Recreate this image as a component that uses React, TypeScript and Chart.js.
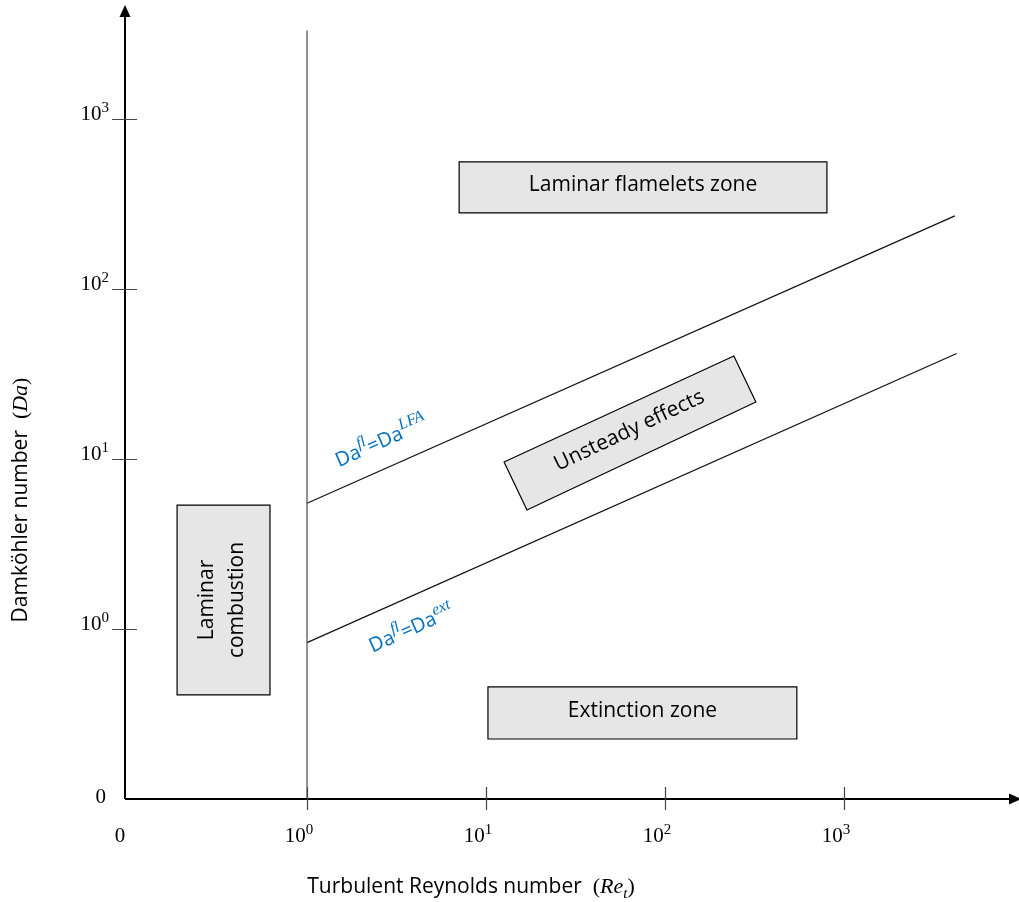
import React, { useEffect, useRef } from "react";
import { Chart, registerables } from "chart.js";

Chart.register(...registerables);

// ---- Axes (values are log10 decades) ----
const xTickExponents = [0, 1, 2, 3];
const yTickExponents = [0, 1, 2, 3];
const xZeroLabel = "0";
const yZeroLabel = "0";
const xMin = -1.017;
const xMax = 3.9;
const yMin = -1;
const yMax = 3.582;

// ---- Boundary lines (log10 Re_t , log10 Da) ----
const reOneX = [0, 0];
const reOneY = [-1, 3.52];
const lfaX = [0, 3.62];
const lfaY = [0.74, 2.43];
const extX = [0, 3.63];
const extY = [-0.08, 1.62];

// ---- Zones ----
const zoneLabels = [
  ["Laminar flamelets zone"],
  ["Extinction zone"],
  ["Laminar", "combustion"],
  ["Unsteady effects"],
];
const zoneCornersX = [
  [0.85, 2.905, 2.905, 0.85],
  [1.011, 2.737, 2.737, 1.011],
  [-0.726, -0.207, -0.207, -0.726],
  [1.101, 1.229, 2.508, 2.385],
];
const zoneCornersY = [
  [2.747, 2.747, 2.447, 2.447],
  [-0.341, -0.341, -0.647, -0.647],
  [0.729, 0.729, -0.388, -0.388],
  [0.982, 0.7, 1.335, 1.606],
];

// ---- Criterion labels ----
const critBase = ["Da", "Da"];
const critSup1 = ["fl", "fl"];
const critSup2 = ["LFA", "ext"];
const critX = [0.413, 0.581];
const critY = [1.106, 0.006];

const xTitleText = "Turbulent Reynolds number  ";
const yTitleText = "Damköhler number  ";

const SANS = "'Open Sans', 'Noto Sans', sans-serif";
const SERIF = "'Liberation Serif', 'DejaVu Serif', serif";
const BLUE = "#0070C0";

type Run = { t: string; font: string; dy?: number };

function runsWidth(ctx: CanvasRenderingContext2D, runs: Run[]) {
  let w = 0;
  for (const r of runs) {
    ctx.font = r.font;
    w += ctx.measureText(r.t).width;
  }
  return w;
}

function drawRuns(
  ctx: CanvasRenderingContext2D,
  runs: Run[],
  x: number,
  y: number,
  align: "left" | "center" | "right"
) {
  const total = runsWidth(ctx, runs);
  let cx = align === "left" ? x : align === "center" ? x - total / 2 : x - total;
  ctx.textAlign = "left";
  for (const r of runs) {
    ctx.font = r.font;
    ctx.fillText(r.t, cx, y + (r.dy || 0));
    cx += ctx.measureText(r.t).width;
  }
}

const diagramPlugin = {
  id: "diagram",
  beforeDatasetsDraw(chart: any) {
    const ctx: CanvasRenderingContext2D = chart.ctx;
    const xs = chart.scales.x;
    const ys = chart.scales.y;
    ctx.save();
    zoneLabels.forEach((lines, i) => {
      const pts = zoneCornersX[i].map((vx, k) => [
        xs.getPixelForValue(vx),
        ys.getPixelForValue(zoneCornersY[i][k]),
      ]);
      ctx.beginPath();
      pts.forEach((p, k) => (k === 0 ? ctx.moveTo(p[0], p[1]) : ctx.lineTo(p[0], p[1])));
      ctx.closePath();
      ctx.fillStyle = "#e6e6e6";
      ctx.fill();
      ctx.strokeStyle = "#000";
      ctx.lineWidth = 1.2;
      ctx.stroke();

      const cx = pts.reduce((s, p) => s + p[0], 0) / pts.length;
      const cy = pts.reduce((s, p) => s + p[1], 0) / pts.length;
      let ang = 0;
      if (i === 2) ang = -Math.PI / 2;
      if (i === 3) ang = Math.atan2(pts[2][1] - pts[1][1], pts[2][0] - pts[1][0]);
      ctx.save();
      ctx.translate(cx, cy);
      ctx.rotate(ang);
      ctx.fillStyle = "#000";
      ctx.font = `21px ${SANS}`;
      ctx.textAlign = "center";
      ctx.textBaseline = "middle";
      const lh = 30;
      lines.forEach((t, k) => {
        ctx.fillText(t, 0, (k - (lines.length - 1) / 2) * lh - 2);
      });
      ctx.restore();
    });
    ctx.restore();
  },
  afterDatasetsDraw(chart: any) {
    const ctx: CanvasRenderingContext2D = chart.ctx;
    const xs = chart.scales.x;
    const ys = chart.scales.y;
    const ax = xs.getPixelForValue(xMin);
    const ay = ys.getPixelForValue(yMin);
    ctx.save();

    // axis lines
    ctx.strokeStyle = "#000";
    ctx.lineWidth = 2;
    ctx.beginPath();
    ctx.moveTo(ax, ay);
    ctx.lineTo(ax, 14);
    ctx.moveTo(ax, ay);
    ctx.lineTo(1011, ay);
    ctx.stroke();
    ctx.fillStyle = "#000";
    ctx.beginPath();
    ctx.moveTo(ax, 5);
    ctx.lineTo(ax - 5.5, 17);
    ctx.lineTo(ax + 5.5, 17);
    ctx.closePath();
    ctx.fill();
    ctx.beginPath();
    ctx.moveTo(1021, ay);
    ctx.lineTo(1009, ay - 5.5);
    ctx.lineTo(1009, ay + 5.5);
    ctx.closePath();
    ctx.fill();

    // ticks
    ctx.strokeStyle = "#444";
    ctx.lineWidth = 1.2;
    ctx.beginPath();
    yTickExponents.forEach((e) => {
      const y = Math.round(ys.getPixelForValue(e)) + 0.5;
      ctx.moveTo(ax - 13, y);
      ctx.lineTo(ax + 12, y);
    });
    xTickExponents.forEach((e) => {
      const x = Math.round(xs.getPixelForValue(e)) + 0.5;
      ctx.moveTo(x, ay - 12);
      ctx.lineTo(x, ay + 11);
    });
    ctx.stroke();

    // tick labels
    ctx.fillStyle = "#000";
    ctx.textBaseline = "alphabetic";
    const big = `21px ${SERIF}`;
    const small = `15px ${SERIF}`;
    yTickExponents.forEach((e) => {
      const y = ys.getPixelForValue(e);
      drawRuns(
        ctx,
        [
          { t: "10", font: big },
          { t: String(e), font: small, dy: -8 },
        ],
        109,
        y + 1,
        "right"
      );
    });
    drawRuns(ctx, [{ t: yZeroLabel, font: big }], 106, ay + 4, "right");
    xTickExponents.forEach((e) => {
      const x = xs.getPixelForValue(e);
      drawRuns(
        ctx,
        [
          { t: "10", font: big },
          { t: String(e), font: small, dy: -8 },
        ],
        x - 8,
        842,
        "center"
      );
    });
    drawRuns(ctx, [{ t: xZeroLabel, font: big }], ax - 5, 842, "center");

    // axis titles
    const titleFont = `21px ${SANS}`;
    const mathFont = `22px ${SERIF}`;
    const mathItal = `italic 22px ${SERIF}`;
    drawRuns(
      ctx,
      [
        { t: xTitleText, font: titleFont },
        { t: "(", font: mathFont },
        { t: "Re", font: mathItal },
        { t: "t", font: `italic 15px ${SERIF}`, dy: 5 },
        { t: ")", font: mathFont },
      ],
      471,
      893,
      "center"
    );
    ctx.save();
    ctx.translate(27, 500);
    ctx.rotate(-Math.PI / 2);
    drawRuns(
      ctx,
      [
        { t: yTitleText, font: titleFont },
        { t: "(", font: mathFont },
        { t: "Da", font: mathItal },
        { t: ")", font: mathFont },
      ],
      0,
      0,
      "center"
    );
    ctx.restore();

    // criterion labels along lines
    const lines = [
      [lfaX, lfaY],
      [extX, extY],
    ];
    ctx.fillStyle = BLUE;
    critBase.forEach((b, i) => {
      const [lx, ly] = lines[i];
      const ang = Math.atan2(
        ys.getPixelForValue(ly[1]) - ys.getPixelForValue(ly[0]),
        xs.getPixelForValue(lx[1]) - xs.getPixelForValue(lx[0])
      );
      ctx.save();
      ctx.translate(xs.getPixelForValue(critX[i]), ys.getPixelForValue(critY[i]));
      ctx.rotate(ang);
      const bf = `20px ${SANS}`;
      const sf = `italic 16px ${SERIF}`;
      drawRuns(
        ctx,
        [
          { t: b, font: bf },
          { t: critSup1[i], font: sf, dy: -9 },
          { t: "=", font: bf },
          { t: critBase[i], font: bf },
          { t: critSup2[i], font: sf, dy: -9 },
        ],
        0,
        7,
        "center"
      );
      ctx.restore();
    });

    ctx.restore();
  },
};

export default function App() {
  const ref = useRef<HTMLCanvasElement | null>(null);
  useEffect(() => {
    if (!ref.current) return;
    const toPts = (xs: number[], ys: number[]) => xs.map((x, i) => ({ x, y: ys[i] }));
    const chart = new Chart(ref.current, {
      type: "scatter",
      data: {
        datasets: [
          {
            label: "Re_t = 1",
            data: toPts(reOneX, reOneY),
            showLine: true,
            borderColor: "#555",
            borderWidth: 1.3,
            pointRadius: 0,
          },
          {
            label: "Da_fl = Da_LFA",
            data: toPts(lfaX, lfaY),
            showLine: true,
            borderColor: "#111",
            borderWidth: 1.2,
            pointRadius: 0,
          },
          {
            label: "Da_fl = Da_ext",
            data: toPts(extX, extY),
            showLine: true,
            borderColor: "#111",
            borderWidth: 1.2,
            pointRadius: 0,
          },
        ],
      },
      options: {
        responsive: false,
        animation: false,
        layout: { padding: { left: 125, right: 14, top: 20, bottom: 103 } },
        plugins: { legend: { display: false }, tooltip: { enabled: false } },
        scales: {
          x: { type: "linear", min: xMin, max: xMax, display: false },
          y: { type: "linear", min: yMin, max: yMax, display: false },
        },
      },
      plugins: [diagramPlugin],
    });
    return () => chart.destroy();
  }, []);
  return (
    <div style={{ position: "fixed", left: 0, top: 0, width: 1019, height: 902, background: "#fff" }}>
      <canvas ref={ref} width={1019} height={902} />
    </div>
  );
}
